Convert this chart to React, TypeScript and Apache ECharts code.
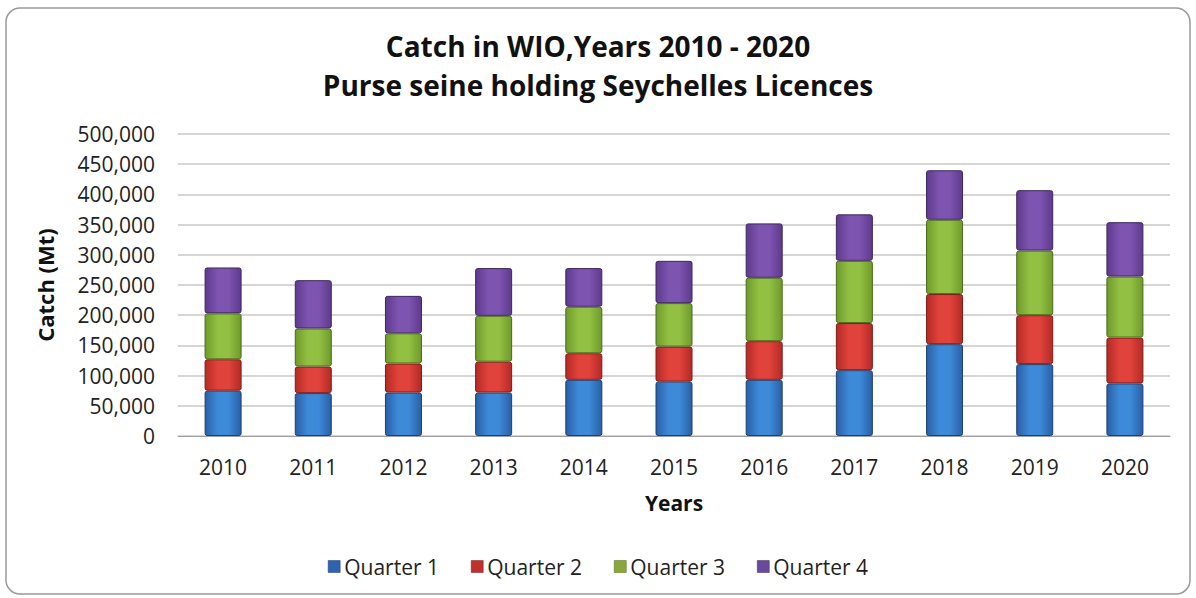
import React, { useEffect, useRef } from "react";
import * as echarts from "echarts";

const years = ["2010", "2011", "2012", "2013", "2014", "2015", "2016", "2017", "2018", "2019", "2020"];
const quarter1 = [75000, 71000, 72000, 72000, 93000, 90000, 93000, 109000, 152000, 119000, 87000];
const quarter2 = [52000, 44000, 48000, 51000, 44000, 58000, 64000, 78000, 83000, 81000, 76000];
const quarter3 = [76000, 63000, 50000, 76000, 77000, 72000, 105000, 103000, 123000, 107000, 101000];
const quarter4 = [76000, 80000, 62000, 79000, 64000, 70000, 90000, 77000, 82000, 100000, 90000];
const seriesNames = ["Quarter 1", "Quarter 2", "Quarter 3", "Quarter 4"];

const FONT = "'Open Sans', sans-serif";

function grad(dark: string, light: string) {
  return new echarts.graphic.LinearGradient(0, 0, 1, 0, [
    { offset: 0, color: dark },
    { offset: 0.35, color: light },
    { offset: 0.65, color: light },
    { offset: 1, color: dark },
  ]);
}

export default function App() {
  const ref = useRef<HTMLDivElement>(null);
  useEffect(() => {
    if (!ref.current) return;
    const chart = echarts.init(ref.current, null, { renderer: "svg" });
    const colors = [
      { dark: "#2a5fa6", light: "#3d8ad8", border: "#1f3f70", legend: "#2f62b0" },
      { dark: "#b52a25", light: "#e0433b", border: "#7a1d1a", legend: "#c0312c" },
      { dark: "#6f9a2a", light: "#92c043", border: "#4b6a1c", legend: "#8aa83a" },
      { dark: "#5e3a8c", light: "#7d54b0", border: "#3e2760", legend: "#6a4a9c" },
    ];
    const data = [quarter1, quarter2, quarter3, quarter4];
    chart.setOption({
      animation: false,
      backgroundColor: "#ffffff",
      graphic: [
        {
          type: "rect",
          shape: { x: 6, y: 8, width: 1184, height: 586, r: 14 },
          style: { fill: "none", stroke: "#9a9a9a", lineWidth: 1.5 },
          z: -1,
        },
      ],
      title: {
        text: "Catch in WIO,Years 2010 - 2020\nPurse seine holding Seychelles Licences",
        left: "center",
        top: 21,
        textStyle: {
          fontFamily: FONT,
          fontWeight: "bold",
          fontSize: 28,
          lineHeight: 39,
          color: "#111",
        },
      },
      legend: {
        bottom: 16,
        left: "center",
        itemWidth: 12,
        itemHeight: 12,
        itemGap: 32,
        icon: "rect",
        textStyle: { fontFamily: FONT, fontSize: 21, color: "#222", padding: [0, 0, 0, -1] },
        data: seriesNames.map((n, i) => ({ name: n, itemStyle: { color: colors[i].legend, borderColor: colors[i].border, borderWidth: 0.5 } })),
      },
      grid: { left: 178, right: 26, top: 134, bottom: 162, containLabel: false },
      xAxis: {
        type: "category",
        data: years,
        name: "Years",
        nameLocation: "middle",
        nameGap: 56,
        nameTextStyle: { fontFamily: FONT, fontWeight: "bold", fontSize: 21, color: "#111" },
        axisLine: { lineStyle: { color: "#a0a0a0" } },
        axisTick: { show: false },
        axisLabel: { fontFamily: FONT, fontSize: 21, color: "#222", margin: 20 },
      },
      yAxis: {
        type: "value",
        min: 0,
        max: 500000,
        interval: 50000,
        name: "Catch (Mt)",
        nameLocation: "middle",
        nameGap: 122,
        nameTextStyle: { fontFamily: FONT, fontWeight: "bold", fontSize: 22, color: "#111" },
        axisLine: { show: false },
        axisTick: { show: false },
        splitLine: { lineStyle: { color: "#c8c8c8", width: 1.5 } },
        axisLabel: {
          fontFamily: FONT,
          fontSize: 21,
          color: "#222",
          margin: 23,
          formatter: (v: number) => v.toLocaleString("en-US"),
        },
      },
      series: data.map((d, i) => ({
        name: seriesNames[i],
        type: "bar",
        stack: "total",
        barWidth: 37,
        data: d,
        itemStyle: {
          color: grad(colors[i].dark, colors[i].light),
          borderColor: colors[i].border,
          borderWidth: 1,
          borderRadius: 2,
        },
      })),
    });
    return () => chart.dispose();
  }, []);
  return (
    <div
      ref={ref}
      style={{ position: "fixed", left: 0, top: 0, width: 1196, height: 598 }}
    />
  );
}
